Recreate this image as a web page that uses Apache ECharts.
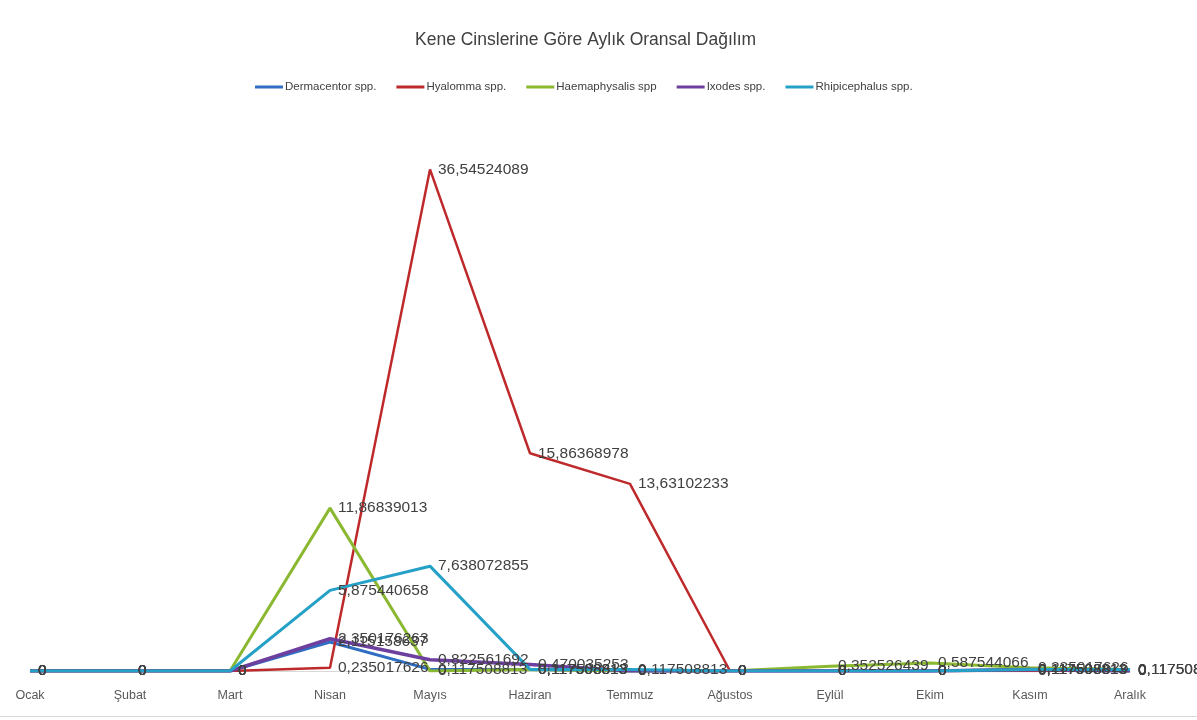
<!DOCTYPE html>
<html>
<head>
<meta charset="utf-8">
<script src="https://cdn.jsdelivr.net/npm/echarts@6/dist/echarts.min.js"></script>
<style>
  html, body { margin: 0; padding: 0; background: #fff; }
  #chart { width: 1197px; height: 720px; }
</style>
</head>
<body>
<div id="chart"></div>
<script>
const months = ['Ocak', 'Şubat', 'Mart', 'Nisan', 'Mayıs', 'Haziran', 'Temmuz', 'Ağustos', 'Eylül', 'Ekim', 'Kasım', 'Aralık']

const dermacentor = [0, 0, 0, 2.115158637, 0.117508813, 0.117508813, 0, 0, 0, 0, 0.117508813, 0]
const hyalomma = [0, 0, 0, 0.235017626, 36.54524089, 15.86368978, 13.63102233, 0, 0, 0, 0, 0]
const haemaphysalis = [0, 0, 0, 11.86839013, 0, 0.117508813, 0, 0, 0.352526439, 0.587544066, 0.235017626, 0.117508813]
const ixodes = [0, 0, 0, 2.350176263, 0.822561692, 0.470035253, 0, 0, 0, 0, 0.117508813, 0]
const rhipicephalus = [0, 0, 0, 5.875440658, 7.638072855, 0.117508813, 0.117508813, 0, 0, 0, 0.117508813, 0.117508813]

const seriesDefs = [
  { name: 'Dermacentor spp.', data: dermacentor, color: '#2f6ec2', width: 3 },
  { name: 'Hyalomma spp.', data: hyalomma, color: '#be2a2c', width: 2.5 },
  { name: 'Haemaphysalis spp', data: haemaphysalis, color: '#8bb831', width: 3 },
  { name: 'Ixodes spp.', data: ixodes, color: '#6d3f9e', width: 3.5 },
  { name: 'Rhipicephalus spp.', data: rhipicephalus, color: '#25a1c7', width: 3 }
]

const font = "'Liberation Sans Narrow', 'Arial Narrow', 'Liberation Sans', sans-serif"

const chart = echarts.init(document.getElementById('chart'))
chart.setOption({
  animation: false,
  title: {
    text: 'Kene Cinslerine Göre Aylık Oransal Dağılım',
    left: 410,
    top: 26,
    textStyle: { fontFamily: font, fontSize: 17.5, fontWeight: 'normal', color: '#404040' }
  },
  legend: {
    top: 76,
    left: 250,
    itemWidth: 28,
    itemHeight: 3,
    itemGap: 20,
    icon: 'rect',
    textStyle: { fontFamily: font, fontSize: 11.5, color: '#404040', padding: [0, 0, 0, -3] },
    data: seriesDefs.map(s => s.name)
  },
  grid: {
    top: 122,
    left: 30,
    right: 67,
    bottom: 49,
    containLabel: false
  },
  xAxis: {
    type: 'category',
    boundaryGap: false,
    data: months,
    axisLine: { lineStyle: { color: '#d9d9d9', width: 1 } },
    axisTick: { show: false },
    axisLabel: { fontFamily: font, fontSize: 12.5, color: '#595959', margin: 18 }
  },
  yAxis: {
    type: 'value',
    min: 0,
    max: 40,
    show: false
  },
  graphic: [
    {
      type: 'line',
      shape: { x1: 0, y1: 716.5, x2: 1197, y2: 716.5 },
      style: { stroke: '#d9d9d9', lineWidth: 1 }
    }
  ],
  series: seriesDefs.map(s => ({
    name: s.name,
    type: 'line',
    data: s.data,
    symbol: 'circle',
    symbolSize: 0,
    color: s.color,
    lineStyle: { color: s.color, width: s.width },
    label: {
      show: true,
      position: 'right',
      distance: 8,
      fontFamily: font,
      fontSize: 15.5,
      color: '#404040',
      formatter: p => String(p.value).replace('.', ',')
    },
    labelLayout: { hideOverlap: false }
  }))
})
</script>
</body>
</html>
